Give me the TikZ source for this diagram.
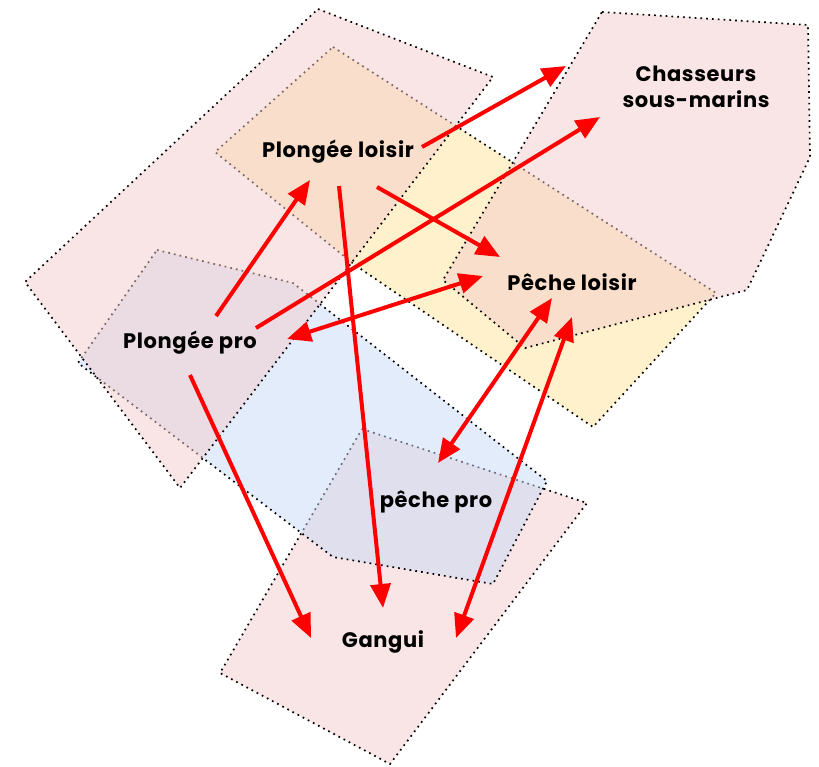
\documentclass[tikz,border=0pt]{standalone}
\usepackage{fontspec}
\setmainfont{Poppins}
\newfontfamily\tagfont{Poppins}[LetterSpace=3]
\usetikzlibrary{arrows.meta}

\definecolor{zonepink}{HTML}{F4CCCC}
\definecolor{zoneyellow}{HTML}{FFE599}
\definecolor{zoneblue}{HTML}{C9DAF8}
\definecolor{linkred}{HTML}{FF0000}

\tikzset{
  zone/.style={fill=#1, fill opacity=0.5, draw=black, line width=1.7pt,
               dash pattern=on 1.7pt off 4.1pt},
  tag/.style={anchor=base, inner sep=0pt, align=center,
              font=\tagfont\fontsize{21}{26}\selectfont\bfseries},
  tip/.tip={Triangle[length=24pt,width=20pt]},
  link/.style={draw=linkred, line width=4pt, -tip},
  duallink/.style={draw=linkred, line width=4pt, tip-tip},
}

\begin{document}
\begin{tikzpicture}[x=1pt,y=-1pt]
  \fill[white] (0,0) rectangle (819,766);
  \useasboundingbox (0,0) rectangle (819,766);

  % activity zones, back to front
  \path[zone=zonepink]   (362,429) -- (587,503) -- (390,764) -- (220,673) -- cycle;        % gangui
  \path[zone=zoneblue]   (157,250) -- (293,283) -- (547,481) -- (493,584) -- (333,557) -- (78,363) -- cycle; % pro
  \path[zone=zoneyellow] (333,47) -- (716,293) -- (593,427) -- (355,265) -- (215,152) -- cycle; % loisir
  \path[zone=zonepink]   (318,9) -- (493,77) -- (180,488) -- (25,282) -- cycle;           % plongée
  \path[zone=zonepink]   (602,12) -- (808,25) -- (810,157) -- (747,290) -- (525,348) -- (443,280) -- cycle; % chasse

  % labels
  \node[tag] (chasse) at (696,107) {Chasseurs\\sous-marins};
  \node[tag] (ploisir) at (338,157) {Plongée loisir};
  \node[tag] (peloisir) at (572,290) {Pêche loisir};
  \node[tag] (ppro) at (190,348) {Plongée pro};
  \node[tag] (pepro) at (436,507) {pêche pro};
  \node[tag] (gangui) at (383,647) {Gangui};

  % connector ends
  \coordinate (ppro-n)  at (216,316);
  \coordinate (ppro-ne) at (256,328);
  \coordinate (ppro-e)  at (287,339);
  \coordinate (ppro-s)  at (190,375);
  \coordinate (pl-sw)   at (310,180);
  \coordinate (pl-e)    at (422,147);
  \coordinate (pl-s)    at (339,186);
  \coordinate (pl-se)   at (377,187);
  \coordinate (ch-w)    at (566,66);
  \coordinate (ch-sw)   at (600,117);
  \coordinate (pel-nw)  at (500,257);
  \coordinate (pel-w)   at (483,276);
  \coordinate (pel-s)   at (552,298);
  \coordinate (pel-se)  at (572,317);
  \coordinate (pep-n)   at (438,463);
  \coordinate (g-nw)    at (311,638);
  \coordinate (g-n)     at (383,608);
  \coordinate (g-ne)    at (456,638);

  % links
  \draw[link] (ppro-n) -- (pl-sw);
  \draw[link] (ppro-ne) -- (ch-sw);
  \draw[link] (pl-e) -- (ch-w);
  \draw[link] (pl-se) -- (pel-nw);
  \draw[duallink] (pel-w) -- (ppro-e);
  \draw[link] (pl-s) -- (g-n);
  \draw[link] (ppro-s) -- (g-nw);
  \draw[duallink] (pel-s) -- (pep-n);
  \draw[duallink] (pel-se) -- (g-ne);
\end{tikzpicture}
\end{document}
